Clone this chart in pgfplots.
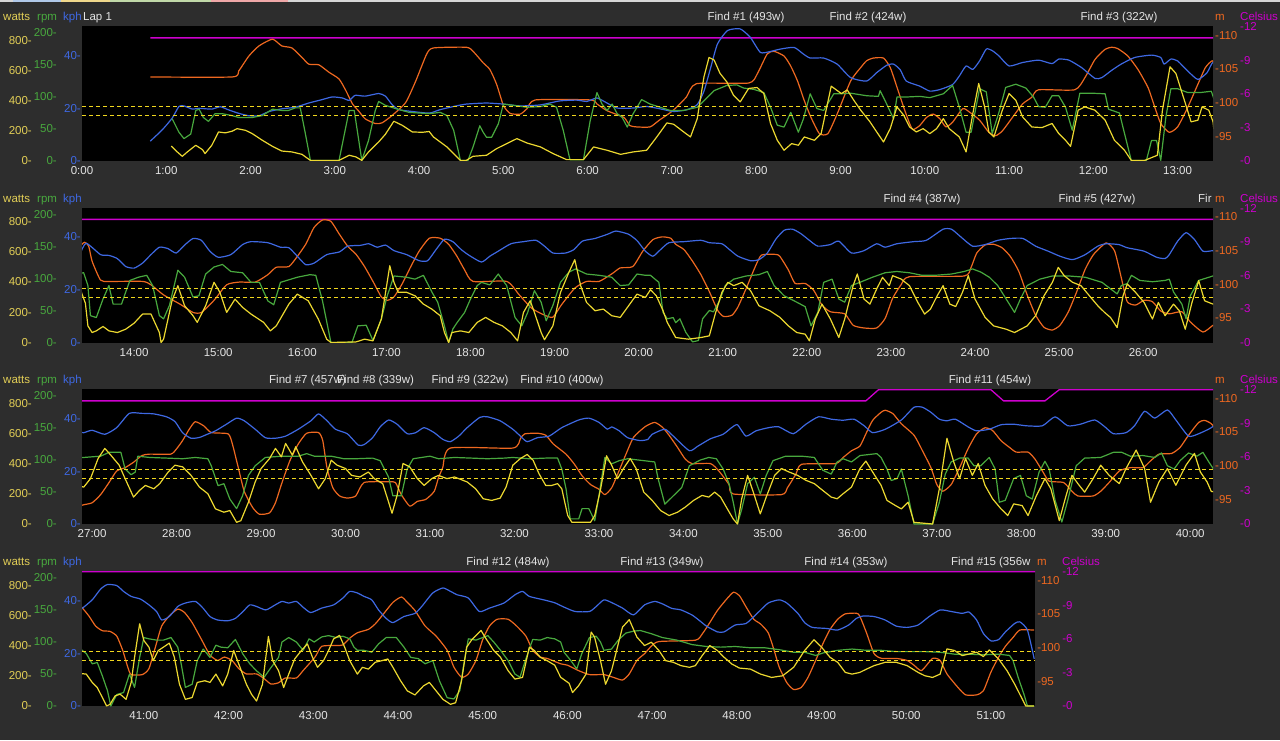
\documentclass[border=0pt]{standalone}
\usepackage{pgfplots}
\pgfplotsset{compat=1.18}
\usepackage{pgfplotstable}
\usepackage{fontspec}
\setmainfont{Liberation Sans}
\definecolor{bg}{RGB}{45,45,45}
\definecolor{watc}{RGB}{236,216,48}
\definecolor{watl}{RGB}{226,206,86}
\definecolor{rpmc}{RGB}{72,168,62}
\definecolor{kphc}{RGB}{62,104,226}
\definecolor{altc}{RGB}{238,104,32}
\definecolor{tmpc}{RGB}{205,0,205}
\definecolor{txt}{RGB}{228,228,228}
\definecolor{stripg}{RGB}{214,214,214}
\definecolor{dashc}{RGB}{240,214,30}

\pgfplotstableread[row sep=\\]{t v\\
1.06 99\\ 1.13 60\\ 1.19 31\\ 1.25 60\\ 1.35 104\\ 1.43 75\\ 1.46 49\\ 1.54 104\\ 1.62 192\\ 1.70 186\\ 1.78 197\\ 1.84 214\\ 1.94 203\\ 2.02 181\\ 2.14 137\\ 2.26 97\\ 2.37 66\\ 2.49 60\\ 2.61 44\\ 2.71 4\\ 3.05 4\\ 3.17 38\\ 3.25 27\\ 3.32 4\\ 3.40 60\\ 3.52 126\\ 3.60 177\\ 3.70 263\\ 3.80 236\\ 3.92 192\\ 4.04 190\\ 4.12 195\\ 4.17 159\\ 4.33 93\\ 4.49 4\\ 4.56 4\\ 4.64 31\\ 4.80 38\\ 4.92 82\\ 5.04 115\\ 5.16 148\\ 5.28 119\\ 5.44 93\\ 5.59 49\\ 5.75 9\\ 5.95 9\\ 6.07 93\\ 6.23 71\\ 6.39 44\\ 6.54 60\\ 6.70 71\\ 6.82 159\\ 6.94 252\\ 7.02 243\\ 7.14 192\\ 7.22 159\\ 7.30 280\\ 7.38 557\\ 7.44 685\\ 7.50 668\\ 7.57 580\\ 7.65 524\\ 7.73 435\\ 7.81 391\\ 7.91 480\\ 8.01 486\\ 8.09 446\\ 8.17 247\\ 8.25 137\\ 8.33 71\\ 8.42 115\\ 8.50 104\\ 8.57 159\\ 8.69 137\\ 8.77 181\\ 8.89 495\\ 9.01 446\\ 9.08 470\\ 9.16 400\\ 9.24 336\\ 9.35 259\\ 9.43 192\\ 9.51 126\\ 9.59 214\\ 9.67 358\\ 9.75 303\\ 9.82 225\\ 9.90 192\\ 9.98 214\\ 10.06 181\\ 10.14 214\\ 10.22 280\\ 10.29 214\\ 10.41 159\\ 10.49 60\\ 10.57 314\\ 10.64 513\\ 10.71 358\\ 10.76 192\\ 10.82 159\\ 10.92 336\\ 11.0 446\\ 11.08 402\\ 11.16 292\\ 11.27 225\\ 11.39 221\\ 11.51 248\\ 11.59 181\\ 11.67 137\\ 11.73 97\\ 11.82 336\\ 11.90 358\\ 12.02 336\\ 12.14 270\\ 12.25 137\\ 12.37 71\\ 12.45 4\\ 12.61 4\\ 12.76 38\\ 12.82 336\\ 12.91 623\\ 12.98 579\\ 13.08 402\\ 13.16 259\\ 13.24 270\\ 13.29 358\\ 13.37 336\\ 13.42 260\\
13.45 110\\ 13.50 66\\ 13.55 77\\ 13.63 106\\ 13.70 77\\ 13.80 66\\ 13.90 88\\ 14.0 128\\ 14.10 188\\ 14.20 188\\ 14.30 66\\ 14.32 0\\ 14.35 22\\ 14.45 276\\ 14.52 376\\ 14.60 243\\ 14.70 177\\ 14.75 133\\ 14.85 243\\ 14.95 398\\ 15.02 332\\ 15.10 199\\ 15.20 287\\ 15.29 232\\ 15.39 188\\ 15.54 133\\ 15.62 77\\ 15.69 110\\ 15.84 254\\ 15.94 320\\ 16.07 276\\ 16.19 155\\ 16.29 22\\ 16.34 0\\ 16.64 4\\ 16.74 22\\ 16.84 11\\ 16.94 155\\ 17.04 508\\ 17.09 398\\ 17.14 332\\ 17.24 332\\ 17.34 309\\ 17.44 254\\ 17.54 221\\ 17.64 177\\ 17.69 66\\ 17.74 0\\ 17.78 66\\ 17.88 77\\ 17.98 66\\ 18.08 133\\ 18.18 166\\ 18.28 133\\ 18.38 110\\ 18.48 66\\ 18.56 11\\ 18.63 199\\ 18.71 276\\ 18.76 199\\ 18.84 66\\ 18.88 18\\ 18.98 110\\ 19.07 331\\ 19.17 464\\ 19.24 548\\ 19.31 376\\ 19.38 265\\ 19.48 210\\ 19.58 221\\ 19.68 177\\ 19.78 166\\ 19.88 243\\ 19.98 320\\ 20.08 298\\ 20.14 349\\ 20.21 309\\ 20.29 210\\ 20.34 133\\ 20.44 33\\ 20.59 22\\ 20.74 33\\ 20.84 44\\ 20.91 188\\ 20.99 332\\ 21.06 398\\ 21.13 376\\ 21.23 398\\ 21.33 343\\ 21.43 243\\ 21.56 210\\ 21.68 166\\ 21.78 110\\ 21.88 66\\ 21.98 55\\ 22.03 11\\ 22.10 155\\ 22.18 254\\ 22.28 155\\ 22.38 33\\ 22.45 155\\ 22.55 376\\ 22.60 453\\ 22.68 287\\ 22.75 254\\ 22.83 354\\ 22.90 431\\ 22.98 376\\ 23.02 442\\ 23.12 420\\ 23.22 376\\ 23.32 265\\ 23.40 188\\ 23.47 221\\ 23.55 309\\ 23.62 376\\ 23.70 254\\ 23.77 238\\ 23.85 331\\ 23.92 442\\ 24.0 287\\ 24.12 166\\ 24.22 110\\ 24.37 88\\ 24.47 66\\ 24.62 110\\ 24.72 177\\ 24.82 309\\ 24.92 398\\ 24.99 497\\ 25.06 442\\ 25.16 398\\ 25.26 376\\ 25.36 309\\ 25.46 243\\ 25.54 199\\ 25.61 166\\ 25.69 99\\ 25.76 309\\ 25.81 387\\ 25.91 331\\ 26.01 265\\ 26.11 155\\ 26.18 265\\ 26.26 177\\ 26.36 254\\ 26.43 210\\ 26.50 88\\ 26.58 265\\ 26.66 409\\ 26.73 276\\ 26.83 254\\
26.90 244\\ 26.98 300\\ 27.07 433\\ 27.15 500\\ 27.22 456\\ 27.32 389\\ 27.39 300\\ 27.49 178\\ 27.56 222\\ 27.63 255\\ 27.73 233\\ 27.80 267\\ 27.90 344\\ 27.98 389\\ 28.07 378\\ 28.17 322\\ 28.27 244\\ 28.37 200\\ 28.46 100\\ 28.56 78\\ 28.63 89\\ 28.71 11\\ 28.76 22\\ 28.85 144\\ 28.93 278\\ 29.00 367\\ 29.10 433\\ 29.17 500\\ 29.24 444\\ 29.29 533\\ 29.37 456\\ 29.41 511\\ 29.49 411\\ 29.59 322\\ 29.68 233\\ 29.76 300\\ 29.83 422\\ 29.90 389\\ 30.0 367\\ 30.07 322\\ 30.17 311\\ 30.27 344\\ 30.34 300\\ 30.44 267\\ 30.51 144\\ 30.55 71\\ 30.61 189\\ 30.68 400\\ 30.76 378\\ 30.85 300\\ 30.93 255\\ 31.02 300\\ 31.10 322\\ 31.20 300\\ 31.29 311\\ 31.44 278\\ 31.54 233\\ 31.63 167\\ 31.73 156\\ 31.83 171\\ 31.90 244\\ 31.98 389\\ 32.07 433\\ 32.15 460\\ 32.22 422\\ 32.29 333\\ 32.37 255\\ 32.44 255\\ 32.51 267\\ 32.56 233\\ 32.63 56\\ 32.68 11\\ 32.90 11\\ 32.95 56\\ 33.02 233\\ 33.09 451\\ 33.15 389\\ 33.22 300\\ 33.29 367\\ 33.37 433\\ 33.44 367\\ 33.53 211\\ 33.63 156\\ 33.73 89\\ 33.83 56\\ 33.93 78\\ 34.02 111\\ 34.12 156\\ 34.22 189\\ 34.30 178\\ 34.37 211\\ 34.44 178\\ 34.52 100\\ 34.59 33\\ 34.64 0\\ 34.69 167\\ 34.76 322\\ 34.84 189\\ 34.91 67\\ 34.98 178\\ 35.08 322\\ 35.16 367\\ 35.25 344\\ 35.35 322\\ 35.45 289\\ 35.55 267\\ 35.65 222\\ 35.75 178\\ 35.82 167\\ 35.89 200\\ 35.99 244\\ 36.09 367\\ 36.16 416\\ 36.24 344\\ 36.34 256\\ 36.41 156\\ 36.51 122\\ 36.58 100\\ 36.66 144\\ 36.73 11\\ 36.95 0\\ 37.03 233\\ 37.12 567\\ 37.20 411\\ 37.27 300\\ 37.34 433\\ 37.42 322\\ 37.49 400\\ 37.57 256\\ 37.66 167\\ 37.76 100\\ 37.84 56\\ 37.91 133\\ 38.01 122\\ 38.08 56\\ 38.18 189\\ 38.28 300\\ 38.35 233\\ 38.45 22\\ 38.52 167\\ 38.60 322\\ 38.67 267\\ 38.75 211\\ 38.85 300\\ 38.94 389\\ 39.04 322\\ 39.16 267\\ 39.24 367\\ 39.36 489\\ 39.46 367\\ 39.53 144\\ 39.63 278\\ 39.73 367\\ 39.83 256\\ 39.95 389\\ 40.05 467\\ 40.12 344\\ 40.20 278\\ 40.25 215\\
40.32 211\\ 40.39 156\\ 40.45 122\\ 40.51 56\\ 40.56 0\\ 40.60 11\\ 40.66 67\\ 40.72 78\\ 40.79 44\\ 40.85 156\\ 40.89 322\\ 40.95 544\\ 41.0 433\\ 41.06 389\\ 41.11 300\\ 41.17 367\\ 41.23 389\\ 41.30 416\\ 41.36 322\\ 41.42 144\\ 41.49 44\\ 41.57 56\\ 41.63 156\\ 41.72 167\\ 41.78 156\\ 41.85 211\\ 41.93 133\\ 41.99 211\\ 42.06 367\\ 42.12 278\\ 42.21 144\\ 42.27 78\\ 42.33 33\\ 42.40 144\\ 42.47 460\\ 42.52 300\\ 42.59 233\\ 42.65 122\\ 42.71 211\\ 42.78 311\\ 42.86 367\\ 42.93 411\\ 42.99 322\\ 43.05 256\\ 43.12 300\\ 43.18 367\\ 43.24 444\\ 43.31 467\\ 43.37 389\\ 43.43 300\\ 43.52 211\\ 43.58 256\\ 43.65 244\\ 43.73 289\\ 43.81 300\\ 43.88 311\\ 43.94 256\\ 44.03 167\\ 44.11 100\\ 44.20 73\\ 44.30 133\\ 44.37 156\\ 44.45 100\\ 44.53 44\\ 44.62 11\\ 44.68 22\\ 44.75 167\\ 44.81 389\\ 44.87 438\\ 44.98 500\\ 45.04 444\\ 45.13 367\\ 45.21 322\\ 45.30 233\\ 45.38 178\\ 45.47 189\\ 45.55 389\\ 45.61 367\\ 45.68 322\\ 45.76 300\\ 45.85 270\\ 45.92 190\\ 46.02 150\\ 46.06 89\\ 46.13 133\\ 46.22 211\\ 46.28 489\\ 46.32 456\\ 46.39 300\\ 46.45 144\\ 46.52 233\\ 46.58 367\\ 46.65 522\\ 46.73 571\\ 46.82 456\\ 46.91 400\\ 46.99 422\\ 47.08 367\\ 47.16 300\\ 47.25 289\\ 47.34 267\\ 47.44 256\\ 47.51 267\\ 47.59 333\\ 47.68 400\\ 47.77 367\\ 47.85 322\\ 47.94 278\\ 48.03 251\\ 48.16 244\\ 48.28 211\\ 48.41 189\\ 48.54 200\\ 48.67 256\\ 48.80 367\\ 48.91 438\\ 49.0 389\\ 49.10 322\\ 49.19 289\\ 49.28 222\\ 49.36 211\\ 49.45 222\\ 49.53 244\\ 49.62 267\\ 49.75 289\\ 49.88 289\\ 50.01 267\\ 50.14 222\\ 50.22 200\\ 50.31 189\\ 50.40 211\\ 50.48 378\\ 50.57 367\\ 50.66 333\\ 50.74 344\\ 50.83 356\\ 50.91 327\\ 50.98 371\\ 51.09 311\\ 51.19 233\\ 51.28 144\\ 51.34 78\\ 51.41 0\\ 51.51 0\\
}\Wat

\pgfplotstableread[row sep=\\]{t v\\
1.07 66\\ 1.15 45\\ 1.21 35\\ 1.29 42\\ 1.35 79\\ 1.39 81\\ 1.44 68\\ 1.50 62\\ 1.58 74\\ 1.66 74\\ 1.78 71\\ 1.86 68\\ 2.02 68\\ 2.14 71\\ 2.26 81\\ 2.37 79\\ 2.45 79\\ 2.53 83\\ 2.59 83\\ 2.65 43\\ 2.71 1\\ 3.05 1\\ 3.17 79\\ 3.23 79\\ 3.32 1\\ 3.40 32\\ 3.48 79\\ 3.52 93\\ 3.60 87\\ 3.72 82\\ 3.88 76\\ 4.12 74\\ 4.25 76\\ 4.33 71\\ 4.41 48\\ 4.49 1\\ 4.58 1\\ 4.64 22\\ 4.72 55\\ 4.76 45\\ 4.80 37\\ 4.86 37\\ 4.94 58\\ 5.0 89\\ 5.12 87\\ 5.28 84\\ 5.44 85\\ 5.55 89\\ 5.63 84\\ 5.71 48\\ 5.79 2\\ 5.95 2\\ 6.03 63\\ 6.11 107\\ 6.17 89\\ 6.23 79\\ 6.29 89\\ 6.35 74\\ 6.41 68\\ 6.47 53\\ 6.54 74\\ 6.64 96\\ 6.74 89\\ 6.86 84\\ 6.98 79\\ 7.14 79\\ 7.30 84\\ 7.38 94\\ 7.50 110\\ 7.65 118\\ 7.77 119\\ 7.85 114\\ 7.97 112\\ 8.09 107\\ 8.17 84\\ 8.25 56\\ 8.33 53\\ 8.41 76\\ 8.50 45\\ 8.56 66\\ 8.64 105\\ 8.72 82\\ 8.80 79\\ 8.92 105\\ 9.0 105\\ 9.12 106\\ 9.31 102\\ 9.45 101\\ 9.47 110\\ 9.53 94\\ 9.63 66\\ 9.67 100\\ 9.78 100\\ 9.94 101\\ 10.06 99\\ 10.22 105\\ 10.33 118\\ 10.41 84\\ 10.49 45\\ 10.55 45\\ 10.65 113\\ 10.73 108\\ 10.80 43\\ 10.88 76\\ 10.96 115\\ 11.08 120\\ 11.20 114\\ 11.29 100\\ 11.35 85\\ 11.43 84\\ 11.51 102\\ 11.59 102\\ 11.67 84\\ 11.75 48\\ 11.84 106\\ 11.98 106\\ 12.14 105\\ 12.18 81\\ 12.31 75\\ 12.37 43\\ 12.45 1\\ 12.63 1\\ 12.69 32\\ 12.75 32\\ 12.80 1\\ 12.86 68\\ 12.92 113\\ 13.0 113\\ 13.12 107\\ 13.27 107\\ 13.40 109\\
13.45 89\\ 13.48 42\\ 13.55 39\\ 13.63 68\\ 13.70 89\\ 13.75 60\\ 13.85 60\\ 13.90 79\\ 13.95 97\\ 14.05 102\\ 14.15 105\\ 14.22 89\\ 14.30 42\\ 14.35 37\\ 14.42 58\\ 14.52 113\\ 14.60 102\\ 14.70 71\\ 14.77 73\\ 14.85 107\\ 14.95 118\\ 15.05 122\\ 15.15 111\\ 15.29 109\\ 15.39 94\\ 15.49 94\\ 15.59 65\\ 15.66 59\\ 15.74 94\\ 15.94 102\\ 16.09 106\\ 16.16 105\\ 16.24 65\\ 16.34 0\\ 16.59 0\\ 16.66 26\\ 16.76 27\\ 16.84 3\\ 16.94 37\\ 17.01 73\\ 17.09 104\\ 17.24 102\\ 17.34 99\\ 17.44 105\\ 17.54 79\\ 17.61 63\\ 17.69 26\\ 17.74 0\\ 17.79 21\\ 17.84 31\\ 17.93 47\\ 18.0 68\\ 18.08 89\\ 18.13 94\\ 18.23 90\\ 18.33 107\\ 18.43 89\\ 18.53 39\\ 18.61 26\\ 18.68 47\\ 18.76 81\\ 18.84 63\\ 18.90 34\\ 18.98 58\\ 19.07 94\\ 19.17 110\\ 19.25 115\\ 19.38 107\\ 19.53 105\\ 19.68 102\\ 19.78 89\\ 19.88 90\\ 19.98 107\\ 20.08 105\\ 20.14 105\\ 20.24 94\\ 20.29 47\\ 20.34 37\\ 20.41 39\\ 20.44 31\\ 20.49 37\\ 20.56 16\\ 20.64 1\\ 20.71 3\\ 20.76 37\\ 20.84 50\\ 20.89 48\\ 20.96 65\\ 21.03 89\\ 21.13 99\\ 21.28 104\\ 21.43 106\\ 21.53 111\\ 21.61 89\\ 21.73 73\\ 21.88 63\\ 21.98 56\\ 22.05 26\\ 22.13 47\\ 22.20 94\\ 22.30 99\\ 22.38 68\\ 22.45 63\\ 22.53 89\\ 22.63 94\\ 22.78 102\\ 22.93 109\\ 23.07 111\\ 23.22 109\\ 23.37 105\\ 23.52 105\\ 23.72 107\\ 23.87 111\\ 23.97 115\\ 24.07 110\\ 24.17 102\\ 24.27 89\\ 24.37 68\\ 24.47 47\\ 24.54 68\\ 24.62 89\\ 24.77 99\\ 24.92 104\\ 25.11 104\\ 25.31 102\\ 25.51 94\\ 25.61 84\\ 25.69 76\\ 25.74 89\\ 25.81 92\\ 25.86 105\\ 25.96 97\\ 26.11 95\\ 26.26 97\\ 26.31 99\\ 26.36 79\\ 26.46 60\\ 26.51 37\\ 26.56 73\\ 26.66 97\\ 26.83 104\\
26.90 104\\ 27.10 106\\ 27.20 112\\ 27.34 112\\ 27.39 86\\ 27.46 77\\ 27.51 81\\ 27.54 106\\ 27.68 104\\ 27.88 103\\ 28.07 102\\ 28.22 104\\ 28.37 102\\ 28.41 91\\ 28.49 60\\ 28.56 63\\ 28.63 39\\ 28.71 24\\ 28.78 44\\ 28.85 76\\ 28.93 91\\ 29.05 104\\ 29.24 106\\ 29.44 106\\ 29.54 110\\ 29.63 106\\ 29.83 106\\ 29.98 102\\ 30.12 102\\ 30.32 103\\ 30.41 99\\ 30.51 73\\ 30.56 44\\ 30.66 44\\ 30.73 86\\ 30.80 102\\ 31.0 106\\ 31.10 102\\ 31.29 104\\ 31.49 103\\ 31.68 102\\ 31.88 103\\ 31.98 104\\ 32.17 102\\ 32.37 103\\ 32.51 103\\ 32.56 86\\ 32.61 55\\ 32.66 8\\ 32.76 8\\ 32.80 24\\ 32.88 24\\ 32.95 5\\ 33.0 44\\ 33.07 104\\ 33.15 94\\ 33.24 99\\ 33.34 102\\ 33.53 99\\ 33.66 97\\ 33.70 71\\ 33.78 31\\ 33.88 44\\ 33.98 57\\ 34.07 91\\ 34.20 100\\ 34.30 104\\ 34.39 102\\ 34.47 86\\ 34.54 63\\ 34.59 34\\ 34.64 0\\ 34.69 23\\ 34.76 63\\ 34.84 73\\ 34.91 47\\ 34.98 76\\ 35.06 99\\ 35.21 106\\ 35.40 106\\ 35.55 104\\ 35.65 84\\ 35.75 78\\ 35.82 97\\ 35.89 102\\ 35.99 97\\ 36.09 107\\ 36.29 110\\ 36.34 104\\ 36.41 86\\ 36.46 68\\ 36.53 71\\ 36.58 86\\ 36.66 44\\ 36.73 0\\ 36.95 0\\ 37.03 34\\ 37.10 78\\ 37.17 97\\ 37.27 103\\ 37.37 103\\ 37.44 91\\ 37.52 91\\ 37.62 104\\ 37.69 86\\ 37.74 34\\ 37.81 37\\ 37.91 71\\ 37.99 76\\ 38.06 44\\ 38.13 39\\ 38.21 81\\ 38.28 98\\ 38.33 86\\ 38.40 37\\ 38.48 3\\ 38.55 37\\ 38.65 91\\ 38.75 103\\ 38.94 104\\ 39.09 112\\ 39.19 112\\ 39.29 106\\ 39.44 107\\ 39.58 104\\ 39.66 111\\ 39.73 91\\ 39.81 86\\ 39.88 99\\ 39.98 111\\ 40.08 106\\ 40.15 112\\ 40.22 97\\
40.27 87\\ 40.32 82\\ 40.39 66\\ 40.45 68\\ 40.51 47\\ 40.57 24\\ 40.61 0\\ 40.68 18\\ 40.76 21\\ 40.83 50\\ 40.89 29\\ 40.95 76\\ 41.0 107\\ 41.06 105\\ 41.15 103\\ 41.23 103\\ 41.32 107\\ 41.40 92\\ 41.44 66\\ 41.49 29\\ 41.57 34\\ 41.63 71\\ 41.70 89\\ 41.78 76\\ 41.85 95\\ 41.91 92\\ 41.99 91\\ 42.08 104\\ 42.17 81\\ 42.25 66\\ 42.33 55\\ 42.42 45\\ 42.50 60\\ 42.59 76\\ 42.63 100\\ 42.71 107\\ 42.80 100\\ 42.88 87\\ 42.95 105\\ 43.01 100\\ 43.10 108\\ 43.18 110\\ 43.27 107\\ 43.35 109\\ 43.43 105\\ 43.48 92\\ 43.52 87\\ 43.60 87\\ 43.69 84\\ 43.77 97\\ 43.86 107\\ 43.98 107\\ 44.07 92\\ 44.15 76\\ 44.24 74\\ 44.32 66\\ 44.41 71\\ 44.49 39\\ 44.58 13\\ 44.66 11\\ 44.73 24\\ 44.77 60\\ 44.83 105\\ 44.92 103\\ 45.0 107\\ 45.06 110\\ 45.13 100\\ 45.21 87\\ 45.30 71\\ 45.38 50\\ 45.44 45\\ 45.51 74\\ 45.59 104\\ 45.68 103\\ 45.76 107\\ 45.85 105\\ 45.92 100\\ 45.96 84\\ 46.04 71\\ 46.11 58\\ 46.17 82\\ 46.26 107\\ 46.34 109\\ 46.39 100\\ 46.43 87\\ 46.52 89\\ 46.60 103\\ 46.69 114\\ 46.78 117\\ 46.86 118\\ 46.99 113\\ 47.12 107\\ 47.29 103\\ 47.47 96\\ 47.64 93\\ 47.81 92\\ 47.98 93\\ 48.16 91\\ 48.33 91\\ 48.50 88\\ 48.67 84\\ 48.80 84\\ 48.93 79\\ 49.02 83\\ 49.19 87\\ 49.36 89\\ 49.53 87\\ 49.71 87\\ 49.88 85\\ 50.05 85\\ 50.22 85\\ 50.40 84\\ 50.57 81\\ 50.74 81\\ 50.91 80\\ 51.09 81\\ 51.22 79\\ 51.26 71\\ 51.32 45\\ 51.39 18\\ 51.43 0\\ 51.51 0\\
}\Rpm

\pgfplotstableread[row sep=\\]{t v\\
0.81 7.5\\ 0.95 11.7\\ 1.07 16.2\\ 1.15 20.6\\ 1.21 20.8\\ 1.31 19.6\\ 1.39 19.9\\ 1.54 19.6\\ 1.64 20.5\\ 1.74 19.3\\ 1.86 18.0\\ 1.98 17.1\\ 2.10 17.1\\ 2.22 18.7\\ 2.37 19.7\\ 2.53 20.3\\ 2.69 21.9\\ 2.85 23.2\\ 2.97 24.2\\ 3.09 23.8\\ 3.17 22.9\\ 3.24 24.8\\ 3.36 24.5\\ 3.52 25.5\\ 3.60 24.5\\ 3.68 21.3\\ 3.76 19.4\\ 3.92 18.7\\ 4.12 18.1\\ 4.25 19.4\\ 4.41 20.6\\ 4.56 21.5\\ 4.80 21.9\\ 5.0 21.5\\ 5.20 20.8\\ 5.44 21.2\\ 5.67 22.7\\ 5.87 23.0\\ 5.99 22.5\\ 6.11 23.8\\ 6.23 21.9\\ 6.35 20.0\\ 6.54 20.0\\ 6.70 20.6\\ 6.86 19.7\\ 7.02 18.7\\ 7.18 19.4\\ 7.30 21.3\\ 7.38 26.4\\ 7.46 35.3\\ 7.54 44.2\\ 7.66 49.3\\ 7.81 49.9\\ 7.93 46.7\\ 8.05 41.0\\ 8.17 41.4\\ 8.29 42.3\\ 8.45 42.9\\ 8.56 40.4\\ 8.64 38.9\\ 8.80 38.9\\ 8.96 36.6\\ 9.12 31.5\\ 9.31 30.2\\ 9.43 33.4\\ 9.55 36.2\\ 9.63 36.6\\ 9.71 34.4\\ 9.78 30.2\\ 9.94 28.3\\ 10.06 26.4\\ 10.18 27.0\\ 10.33 28.9\\ 10.41 32.1\\ 10.49 35.9\\ 10.57 34.6\\ 10.65 37.8\\ 10.73 42.3\\ 10.80 41.7\\ 10.88 39.7\\ 11.0 35.9\\ 11.16 37.2\\ 11.35 38.1\\ 11.51 36.8\\ 11.59 38.5\\ 11.71 38.1\\ 11.86 35.3\\ 12.02 31.2\\ 12.10 31.5\\ 12.22 34.3\\ 12.33 36.6\\ 12.49 39.1\\ 12.69 40.0\\ 12.80 39.1\\ 12.84 36.6\\ 12.92 38.5\\ 13.0 37.8\\ 13.12 34.0\\ 13.24 30.8\\ 13.35 33.4\\ 13.43 37.5\\
13.60 33.2\\ 13.70 32.9\\ 13.80 31.7\\ 13.90 28.7\\ 14.0 28.1\\ 14.10 30.0\\ 14.20 33.2\\ 14.30 36.0\\ 14.40 35.5\\ 14.50 33.8\\ 14.60 36.8\\ 14.70 39.3\\ 14.80 38.6\\ 14.90 34.5\\ 15.0 32.2\\ 15.15 33.2\\ 15.29 37.0\\ 15.39 38.1\\ 15.59 37.7\\ 15.74 36.0\\ 15.84 35.8\\ 15.94 32.6\\ 16.04 29.4\\ 16.14 30.0\\ 16.29 33.2\\ 16.44 34.2\\ 16.54 36.4\\ 16.69 36.7\\ 16.79 37.3\\ 16.89 36.0\\ 16.99 36.8\\ 17.09 34.7\\ 17.24 33.2\\ 17.39 30.9\\ 17.49 30.9\\ 17.59 35.1\\ 17.69 39.0\\ 17.79 38.1\\ 17.89 35.1\\ 17.98 33.0\\ 18.13 30.4\\ 18.23 32.6\\ 18.33 34.5\\ 18.48 37.3\\ 18.63 38.1\\ 18.78 38.6\\ 18.88 36.4\\ 18.98 33.8\\ 19.13 33.8\\ 19.23 35.1\\ 19.33 38.3\\ 19.48 39.3\\ 19.63 40.9\\ 19.73 42.1\\ 19.88 40.9\\ 19.98 38.5\\ 20.08 34.5\\ 20.17 32.6\\ 20.26 35.1\\ 20.36 37.7\\ 20.54 38.1\\ 20.74 38.6\\ 20.84 37.7\\ 20.99 37.3\\ 21.08 35.1\\ 21.18 32.6\\ 21.33 30.9\\ 21.43 31.3\\ 21.53 33.8\\ 21.63 39.0\\ 21.73 42.4\\ 21.83 42.8\\ 21.93 41.1\\ 22.03 38.6\\ 22.13 36.4\\ 22.28 37.0\\ 22.38 38.3\\ 22.53 33.8\\ 22.68 34.7\\ 22.83 37.3\\ 22.93 36.0\\ 23.07 37.3\\ 23.27 38.1\\ 23.42 38.6\\ 23.62 42.8\\ 23.72 42.8\\ 23.82 40.2\\ 23.97 36.4\\ 24.12 37.0\\ 24.27 38.6\\ 24.42 39.3\\ 24.57 39.3\\ 24.72 36.4\\ 24.87 34.5\\ 25.01 32.6\\ 25.16 31.3\\ 25.31 33.2\\ 25.46 36.4\\ 25.56 37.3\\ 25.71 37.0\\ 25.81 35.8\\ 26.01 34.5\\ 26.16 32.2\\ 26.26 31.7\\ 26.31 33.2\\ 26.41 38.3\\ 26.51 41.5\\ 26.61 38.9\\ 26.71 34.5\\ 26.83 34.7\\
26.90 34.5\\ 27.0 35.4\\ 27.15 33.9\\ 27.29 36.4\\ 27.44 41.8\\ 27.59 41.8\\ 27.73 41.6\\ 27.88 40.5\\ 27.98 38.7\\ 28.07 34.5\\ 28.17 32.4\\ 28.27 32.7\\ 28.37 34.0\\ 28.46 35.2\\ 28.59 37.7\\ 28.71 40.0\\ 28.80 39.0\\ 28.93 35.8\\ 29.05 32.6\\ 29.17 32.4\\ 29.29 33.2\\ 29.44 35.8\\ 29.59 39.0\\ 29.68 41.6\\ 29.78 39.0\\ 29.88 35.8\\ 30.02 34.1\\ 30.15 29.8\\ 30.22 30.0\\ 30.32 32.6\\ 30.41 36.7\\ 30.51 39.3\\ 30.61 37.7\\ 30.73 34.1\\ 30.83 34.5\\ 30.93 36.4\\ 31.05 34.5\\ 31.15 32.0\\ 31.24 31.1\\ 31.34 33.2\\ 31.44 36.4\\ 31.59 40.3\\ 31.68 40.5\\ 31.83 39.0\\ 31.98 35.8\\ 32.07 33.2\\ 32.15 31.1\\ 32.27 32.6\\ 32.41 33.2\\ 32.56 36.4\\ 32.76 39.3\\ 32.88 40.0\\ 33.0 38.4\\ 33.10 35.8\\ 33.15 36.7\\ 33.24 35.2\\ 33.34 32.6\\ 33.49 31.5\\ 33.58 32.0\\ 33.63 33.9\\ 33.78 35.8\\ 33.88 33.2\\ 34.07 27.7\\ 34.17 29.4\\ 34.32 32.2\\ 34.47 33.9\\ 34.57 36.4\\ 34.64 37.5\\ 34.74 33.2\\ 34.86 35.2\\ 35.01 36.4\\ 35.13 36.7\\ 35.30 34.1\\ 35.45 37.7\\ 35.60 40.5\\ 35.75 39.6\\ 35.89 39.2\\ 36.02 39.6\\ 36.14 37.1\\ 36.24 34.5\\ 36.39 35.8\\ 36.58 39.3\\ 36.73 44.1\\ 36.83 44.1\\ 36.93 42.2\\ 37.03 39.6\\ 37.12 39.0\\ 37.22 39.6\\ 37.37 36.7\\ 37.47 35.2\\ 37.62 35.8\\ 37.76 37.5\\ 37.91 37.7\\ 38.06 37.1\\ 38.25 37.1\\ 38.40 40.5\\ 38.55 37.1\\ 38.70 37.7\\ 38.87 39.3\\ 38.99 36.7\\ 39.09 34.1\\ 39.24 34.5\\ 39.34 37.1\\ 39.46 42.6\\ 39.58 40.0\\ 39.73 43.1\\ 39.83 39.3\\ 39.98 33.2\\ 40.10 34.1\\ 40.25 36.4\\
40.39 40.1\\ 40.49 44.2\\ 40.57 45.9\\ 40.68 45.5\\ 40.76 43.3\\ 40.85 41.4\\ 40.96 40.4\\ 41.06 38.2\\ 41.15 35.7\\ 41.21 32.5\\ 41.30 33.8\\ 41.40 37.6\\ 41.49 38.9\\ 41.61 39.5\\ 41.70 36.9\\ 41.78 33.8\\ 41.87 32.5\\ 41.99 32.2\\ 42.08 33.1\\ 42.17 35.7\\ 42.25 38.2\\ 42.33 37.6\\ 42.44 36.3\\ 42.55 38.2\\ 42.63 39.5\\ 42.71 38.9\\ 42.80 39.5\\ 42.88 37.3\\ 42.97 35.3\\ 43.10 37.0\\ 43.24 38.2\\ 43.35 40.8\\ 43.43 43.3\\ 43.52 42.7\\ 43.60 41.4\\ 43.69 40.1\\ 43.77 36.3\\ 43.86 33.1\\ 43.94 31.5\\ 44.07 33.8\\ 44.20 35.0\\ 44.28 37.6\\ 44.41 42.7\\ 44.53 44.6\\ 44.62 43.3\\ 44.70 42.0\\ 44.83 40.8\\ 44.96 35.7\\ 45.08 37.0\\ 45.25 38.9\\ 45.38 42.0\\ 45.47 43.3\\ 45.55 41.4\\ 45.72 40.1\\ 45.85 39.0\\ 45.95 37.5\\ 46.09 35.7\\ 46.26 35.7\\ 46.34 37.6\\ 46.43 40.1\\ 46.52 39.1\\ 46.65 37.0\\ 46.78 34.4\\ 46.91 38.2\\ 47.03 39.5\\ 47.12 38.6\\ 47.23 36.9\\ 47.34 36.3\\ 47.47 34.4\\ 47.55 32.5\\ 47.64 30.2\\ 47.77 28.0\\ 47.85 28.0\\ 47.98 30.6\\ 48.11 31.2\\ 48.24 35.0\\ 48.37 38.9\\ 48.50 40.1\\ 48.59 38.9\\ 48.72 35.0\\ 48.80 31.5\\ 48.89 29.7\\ 49.06 29.3\\ 49.19 28.7\\ 49.32 30.6\\ 49.41 33.1\\ 49.49 34.0\\ 49.62 33.8\\ 49.75 32.5\\ 49.88 30.2\\ 50.01 29.7\\ 50.14 30.6\\ 50.27 33.8\\ 50.40 36.3\\ 50.53 35.7\\ 50.66 35.0\\ 50.74 35.5\\ 50.83 32.5\\ 50.91 27.4\\ 51.0 24.6\\ 51.09 25.1\\ 51.17 28.0\\ 51.28 31.2\\ 51.34 31.8\\ 51.43 28.7\\ 51.51 17.8\\
}\Kph

\pgfplotstableread[row sep=\\]{t v\\
0.81 103.8\\ 1.78 103.8\\ 1.86 104.7\\ 1.98 106.9\\ 2.10 108.4\\ 2.26 109.4\\ 2.37 108.4\\ 2.49 108.1\\ 2.61 106.7\\ 2.69 105.7\\ 2.81 105.6\\ 2.93 104.5\\ 3.05 103.5\\ 3.13 101.8\\ 3.21 99.8\\ 3.28 98.8\\ 3.36 97.6\\ 3.48 96.9\\ 3.56 97.0\\ 3.68 98.1\\ 3.84 100.0\\ 3.96 103.2\\ 4.09 107.2\\ 4.17 108.1\\ 4.56 108.2\\ 4.64 107.6\\ 4.76 105.9\\ 4.84 104.9\\ 4.92 102.7\\ 5.0 99.6\\ 5.08 98.4\\ 5.20 98.3\\ 5.28 99.1\\ 5.38 100.4\\ 6.03 100.4\\ 6.11 99.8\\ 6.23 98.8\\ 6.43 97.8\\ 6.50 96.6\\ 6.58 96.4\\ 6.74 96.4\\ 6.85 97.4\\ 7.01 98.8\\ 7.17 100.8\\ 7.29 102.8\\ 7.91 102.9\\ 8.01 104.2\\ 8.13 107.2\\ 8.21 107.6\\ 8.33 106.9\\ 8.41 105.4\\ 8.49 103.2\\ 8.57 100.3\\ 8.65 97.8\\ 8.75 95.4\\ 8.85 95.4\\ 8.96 98.3\\ 9.12 103.2\\ 9.24 105.2\\ 9.31 106.2\\ 9.39 106.6\\ 9.51 106.6\\ 9.59 105.2\\ 9.67 102.3\\ 9.75 99.3\\ 9.82 96.9\\ 9.86 96.0\\ 9.94 96.6\\ 10.02 97.8\\ 10.10 98.3\\ 10.18 97.6\\ 10.25 96.4\\ 10.33 97.1\\ 10.45 99.1\\ 10.53 98.6\\ 10.65 97.4\\ 10.76 95.6\\ 10.84 95.1\\ 10.92 95.8\\ 11.04 97.8\\ 11.16 99.8\\ 11.27 100.8\\ 11.35 101.9\\ 11.78 101.9\\ 11.90 103.7\\ 12.02 106.4\\ 12.14 107.9\\ 12.22 108.2\\ 12.29 108.0\\ 12.41 106.9\\ 12.53 104.9\\ 12.65 102.2\\ 12.73 99.3\\ 12.80 96.9\\ 12.90 95.6\\ 13.0 96.4\\ 13.12 99.3\\ 13.24 102.7\\ 13.33 105.2\\ 13.41 106.2\\
13.46 105.6\\ 13.50 103.4\\ 13.60 100.6\\ 13.70 100.4\\ 14.10 100.4\\ 14.20 99.9\\ 14.35 98.4\\ 14.55 97.0\\ 14.70 95.8\\ 14.80 95.8\\ 14.95 97.6\\ 15.10 99.9\\ 15.25 100.3\\ 15.44 100.3\\ 15.59 101.4\\ 15.69 102.5\\ 15.84 102.6\\ 15.94 104.1\\ 16.04 105.9\\ 16.14 108.4\\ 16.24 109.5\\ 16.34 109.3\\ 16.44 107.4\\ 16.54 105.6\\ 16.64 104.4\\ 16.74 102.6\\ 16.84 100.4\\ 16.94 98.1\\ 17.01 97.6\\ 17.09 98.1\\ 17.19 100.1\\ 17.29 102.6\\ 17.39 104.9\\ 17.51 106.8\\ 17.64 106.8\\ 17.74 105.9\\ 17.84 104.1\\ 17.93 102.1\\ 18.03 100.4\\ 18.43 100.4\\ 18.58 98.4\\ 18.73 96.4\\ 18.88 95.4\\ 18.98 95.1\\ 19.08 96.9\\ 19.24 99.4\\ 19.38 100.4\\ 19.53 100.4\\ 19.69 101.6\\ 19.78 102.4\\ 19.93 102.6\\ 20.05 104.9\\ 20.17 106.6\\ 20.28 107.0\\ 20.38 106.8\\ 20.44 105.9\\ 20.54 105.1\\ 20.64 103.4\\ 20.74 101.4\\ 20.84 98.9\\ 20.94 96.1\\ 21.01 95.2\\ 21.11 95.4\\ 21.18 96.6\\ 21.28 99.4\\ 21.38 102.4\\ 21.46 104.3\\ 21.63 104.4\\ 21.68 104.1\\ 21.78 102.1\\ 21.86 100.1\\ 21.98 100.1\\ 22.08 99.1\\ 22.18 96.9\\ 22.28 95.9\\ 22.45 95.6\\ 22.55 93.9\\ 22.68 93.5\\ 22.83 93.5\\ 22.93 94.9\\ 23.02 97.9\\ 23.12 99.9\\ 23.22 101.1\\ 23.87 101.2\\ 23.95 102.4\\ 24.02 104.6\\ 24.12 105.8\\ 24.22 105.9\\ 24.32 105.4\\ 24.42 104.1\\ 24.52 101.9\\ 24.62 98.4\\ 24.72 95.4\\ 24.82 93.6\\ 24.92 93.2\\ 25.01 93.9\\ 25.11 95.9\\ 25.21 98.9\\ 25.31 102.2\\ 25.41 104.4\\ 25.56 106.1\\ 25.66 104.9\\ 25.74 100.9\\ 25.81 97.4\\ 25.91 96.9\\ 26.01 97.6\\ 26.11 97.4\\ 26.21 96.0\\ 26.31 95.6\\ 26.46 95.9\\ 26.56 94.4\\ 26.71 92.9\\ 26.83 93.9\\
26.90 94.2\\ 27.0 94.5\\ 27.10 95.7\\ 27.20 97.5\\ 27.29 99.2\\ 27.39 99.7\\ 27.49 100.5\\ 27.59 101.5\\ 27.68 101.7\\ 27.93 101.7\\ 28.0 102.5\\ 28.07 103.7\\ 28.15 105.4\\ 28.22 106.5\\ 28.32 105.9\\ 28.41 104.9\\ 28.61 104.7\\ 28.66 103.2\\ 28.73 99.7\\ 28.80 96.2\\ 28.90 93.8\\ 28.98 92.8\\ 29.10 93.0\\ 29.17 94.5\\ 29.24 97.2\\ 29.34 100.7\\ 29.44 103.2\\ 29.54 104.8\\ 29.68 104.9\\ 29.73 103.7\\ 29.78 99.7\\ 29.85 96.7\\ 29.93 95.5\\ 30.02 95.2\\ 30.12 95.5\\ 30.22 97.5\\ 30.51 97.6\\ 30.59 97.5\\ 30.66 95.7\\ 30.76 94.0\\ 30.85 94.7\\ 30.95 95.0\\ 31.05 96.2\\ 31.10 98.2\\ 31.15 99.7\\ 31.24 102.6\\ 31.98 102.6\\ 32.07 104.0\\ 32.12 104.7\\ 32.27 104.8\\ 32.37 104.5\\ 32.46 103.2\\ 32.61 101.7\\ 32.71 100.2\\ 32.80 98.5\\ 32.90 97.2\\ 33.0 96.5\\ 33.07 95.7\\ 33.15 96.7\\ 33.22 98.7\\ 33.32 101.7\\ 33.41 104.2\\ 33.55 105.8\\ 33.66 106.4\\ 33.75 105.7\\ 33.83 104.5\\ 33.93 102.7\\ 34.02 101.0\\ 34.10 100.3\\ 34.32 100.3\\ 34.42 99.2\\ 34.54 97.2\\ 34.59 95.8\\ 35.16 95.7\\ 35.23 96.7\\ 35.33 98.7\\ 35.40 100.2\\ 35.80 100.3\\ 35.89 101.2\\ 35.99 102.2\\ 36.09 102.9\\ 36.16 104.7\\ 36.24 106.7\\ 36.34 107.9\\ 36.39 108.2\\ 36.48 107.7\\ 36.58 106.2\\ 36.73 104.5\\ 36.83 102.2\\ 36.93 99.7\\ 37.0 97.2\\ 37.07 96.2\\ 37.17 97.2\\ 37.27 99.7\\ 37.37 102.5\\ 37.47 104.7\\ 37.57 105.6\\ 37.66 105.2\\ 37.76 103.7\\ 37.86 102.7\\ 37.94 102.0\\ 38.08 102.0\\ 38.16 101.0\\ 38.25 99.2\\ 38.33 97.7\\ 38.50 97.5\\ 38.60 96.2\\ 38.67 95.5\\ 38.85 95.5\\ 38.94 96.2\\ 39.04 97.5\\ 39.16 99.2\\ 39.29 99.7\\ 39.44 99.7\\ 39.53 100.7\\ 39.63 101.7\\ 39.78 101.8\\ 39.88 102.7\\ 39.98 104.5\\ 40.10 106.4\\ 40.17 106.7\\ 40.25 106.2\\
40.35 104.7\\ 40.43 103.2\\ 40.51 102.5\\ 40.60 102.4\\ 40.68 101.7\\ 40.75 99.6\\ 40.81 97.1\\ 40.85 96.0\\ 40.98 96.0\\ 41.06 96.9\\ 41.15 100.7\\ 41.21 103.2\\ 41.30 104.7\\ 41.40 105.7\\ 41.48 105.2\\ 41.57 103.7\\ 41.68 101.2\\ 41.78 98.9\\ 41.87 98.1\\ 41.95 98.6\\ 42.04 98.1\\ 42.12 96.9\\ 42.21 96.1\\ 42.33 96.1\\ 42.42 95.4\\ 42.50 94.6\\ 42.59 94.8\\ 42.67 95.5\\ 42.80 95.5\\ 42.88 96.6\\ 43.02 98.6\\ 43.10 100.2\\ 43.27 100.3\\ 43.35 100.4\\ 43.43 101.4\\ 43.52 102.2\\ 43.65 102.7\\ 43.73 103.5\\ 43.81 104.7\\ 43.94 106.7\\ 44.04 107.5\\ 44.11 106.7\\ 44.20 105.5\\ 44.32 103.2\\ 44.45 101.7\\ 44.58 99.6\\ 44.66 97.1\\ 44.75 95.6\\ 44.83 96.1\\ 44.92 98.1\\ 45.0 101.2\\ 45.08 103.2\\ 45.17 104.2\\ 45.30 104.2\\ 45.40 103.2\\ 45.51 101.7\\ 45.59 99.6\\ 45.68 98.6\\ 45.76 98.4\\ 45.92 97.6\\ 46.0 97.4\\ 46.13 96.6\\ 46.26 96.0\\ 46.43 96.0\\ 46.54 95.6\\ 46.65 95.2\\ 46.73 96.1\\ 46.82 98.1\\ 46.91 99.1\\ 46.99 100.2\\ 47.08 100.9\\ 47.51 101.1\\ 47.59 102.0\\ 47.68 103.7\\ 47.77 105.5\\ 47.88 107.2\\ 47.96 108.2\\ 48.03 107.7\\ 48.11 106.0\\ 48.20 104.2\\ 48.28 103.5\\ 48.37 102.2\\ 48.44 99.6\\ 48.50 97.1\\ 48.59 94.8\\ 48.67 93.8\\ 48.76 94.1\\ 48.84 95.6\\ 48.93 98.1\\ 49.02 100.7\\ 49.10 102.7\\ 49.19 104.2\\ 49.28 105.0\\ 49.41 105.1\\ 49.45 104.7\\ 49.53 102.2\\ 49.62 99.1\\ 49.71 98.4\\ 49.88 98.4\\ 50.01 98.1\\ 50.09 97.4\\ 50.18 96.6\\ 50.31 98.4\\ 50.40 98.1\\ 50.48 96.1\\ 50.61 94.1\\ 50.70 93.0\\ 50.83 93.0\\ 50.91 93.6\\ 51.0 96.4\\ 51.09 98.6\\ 51.17 100.2\\ 51.26 101.5\\ 51.34 102.6\\ 51.51 102.6\\
}\Alt

\pgfplotstableread[row sep=\\]{t v\\
0.81 11\\ 36.16 11\\ 36.31 12\\ 37.64 12\\ 37.79 11\\ 38.28 11\\ 38.45 12\\ 51.6 12\\
}\Tmp

\pgfplotsset{
  pan/.style={scale only axis, height=135pt, anchor=south west,
    axis line style={draw=none}, major tick length=0pt, tick style={draw=none},
    ticklabel style={font=\fontsize{11.5}{13}\selectfont, inner sep=0pt},
    /pgf/number format/assume math mode=true, /pgf/number format/fixed},
  hid/.style={xtick=\empty},
  lft/.style={yticklabel={\pgfmathprintnumber{\tick}-}, yticklabel style={anchor=east, xshift=#1}},
  rgt/.style={yticklabel pos=right, yticklabel={-\pgfmathprintnumber{\tick}}, yticklabel style={anchor=west, xshift=#1}},
}

\newcommand\Panel[5]{%
\begin{axis}[pan, at={(82pt,#1)}, width=#4, xmin=#2, xmax=#3, ymin=0, ymax=893,
  axis background/.style={fill=black},
  xtick={#5}, xticklabel={\pgfmathparse{int(round(\tick))}\pgfmathresult:00},
  xticklabel style={anchor=base, yshift=-13.5pt, text=txt},
  ytick={0,200,400,600,800}, lft=-50pt, yticklabel style={text=watl}]
\end{axis}
\begin{axis}[pan, hid, at={(82pt,#1)}, width=#4, xmin=#2, xmax=#3, ymin=0, ymax=12.06,
  ytick={0,3,6,9,12}, rgt=27pt, yticklabel style={text=tmpc}]
  \addplot[tmpc, line width=1.3pt] table[x=t,y=v]{\Tmp};
\end{axis}
\begin{axis}[pan, hid, at={(82pt,#1)}, width=#4, xmin=#2, xmax=#3, ymin=91.35, ymax=111.35,
  ytick={95,100,105,110}, rgt=2pt, yticklabel style={text=altc}]
  \addplot[altc, line width=1.2pt, line join=round, smooth, tension=0.35] table[x=t,y=v]{\Alt};
\end{axis}
\begin{axis}[pan, hid, at={(82pt,#1)}, width=#4, xmin=#2, xmax=#3, ymin=0, ymax=51,
  ytick={0,20,40}, lft=-1pt, yticklabel style={text=kphc}]
  \addplot[kphc, line width=1.2pt, line join=round, smooth, tension=0.35] table[x=t,y=v]{\Kph};
\end{axis}
\begin{axis}[pan, hid, at={(82pt,#1)}, width=#4, xmin=#2, xmax=#3, ymin=0, ymax=211,
  ytick={0,50,100,150,200}, lft=-25pt, yticklabel style={text=rpmc}]
  \addplot[rpmc, line width=1.2pt, line join=round] table[x=t,y=v]{\Rpm};
\end{axis}
\begin{axis}[pan, hid, at={(82pt,#1)}, width=#4, xmin=#2, xmax=#3, ymin=0, ymax=893, ytick=\empty]
  \addplot[watc, line width=1.2pt, line join=round] table[x=t,y=v]{\Wat};
  \addplot[dashc, line width=1.1pt, dash pattern=on 4pt off 3pt] coordinates {(#2,360) (#3,360)};
  \addplot[dashc, line width=1.1pt, dash pattern=on 4pt off 3pt] coordinates {(#2,300) (#3,300)};
\end{axis}
}

\newcommand\Hdr[2]{%
  \node[anchor=base west, inner sep=0pt, text=watl] at (3pt,#1) {watts};
  \node[anchor=base west, inner sep=0pt, text=rpmc] at (37pt,#1) {rpm};
  \node[anchor=base west, inner sep=0pt, text=kphc] at (63pt,#1) {kph};
  \node[anchor=base west, inner sep=0pt, text=altc] at (#2,#1) {m};
  \node[anchor=base west, inner sep=0pt, text=tmpc] at ({#2+25pt},#1) {Celsius};
}
\newcommand\Find[3]{\node[anchor=base, inner sep=0pt, text=txt] at (#1,#2) {#3};}

\begin{document}
\begin{tikzpicture}[font=\fontsize{11.5}{13}\selectfont]
\path[use as bounding box] (0,0) rectangle (1280pt,740pt);
\fill[bg] (0,0) rectangle (1280pt,740pt);
\fill[stripg] (0,737.5pt) rectangle (1280pt,740pt);
\fill[fill={rgb,255:red,176;green,200;blue,232}] (13pt,737.5pt) rectangle (61pt,740pt);
\fill[fill={rgb,255:red,240;green,216;blue,140}] (61pt,737.5pt) rectangle (110pt,740pt);
\fill[fill={rgb,255:red,192;green,216;blue,168}] (110pt,737.5pt) rectangle (211pt,740pt);
\fill[fill={rgb,255:red,240;green,168;blue,168}] (211pt,737.5pt) rectangle (288pt,740pt);

\Panel{579pt}{0}{13.42}{1131pt}{0,1,2,3,4,5,6,7,8,9,10,11,12,13}
\Panel{397.5pt}{13.38}{26.83}{1131pt}{14,15,16,17,18,19,20,21,22,23,24,25,26}
\Panel{216pt}{26.88}{40.27}{1131pt}{27,28,29,30,31,32,33,34,35,36,37,38,39,40}
\Panel{34pt}{40.27}{51.52}{953pt}{41,42,43,44,45,46,47,48,49,50,51}

\Hdr{719.3pt}{1215pt}
\Hdr{537.8pt}{1215pt}
\Hdr{356.3pt}{1215pt}
\Hdr{174.3pt}{1037pt}
\node[anchor=base west, inner sep=0pt, text=txt] at (83pt,719.3pt) {Lap 1};

\Find{746pt}{719.3pt}{Find \#1 (493w)}
\Find{868pt}{719.3pt}{Find \#2 (424w)}
\Find{1119pt}{719.3pt}{Find \#3 (322w)}
\Find{922pt}{537.8pt}{Find \#4 (387w)}
\Find{1097pt}{537.8pt}{Find \#5 (427w)}
\node[anchor=base west, inner sep=0pt, text=txt] at (1198pt,537.8pt) {Fir};
\node[anchor=base west, inner sep=0pt, text=txt] at (269pt,356.3pt) {Find \#7 (457w)};
\node[anchor=base west, inner sep=0pt, text=txt] at (337pt,356.3pt) {Find \#8 (339w)};
\Find{470pt}{356.3pt}{Find \#9 (322w)}
\Find{562pt}{356.3pt}{Find \#10 (400w)}
\Find{990pt}{356.3pt}{Find \#11 (454w)}
\Find{508pt}{174.3pt}{Find \#12 (484w)}
\Find{662pt}{174.3pt}{Find \#13 (349w)}
\Find{846pt}{174.3pt}{Find \#14 (353w)}
\node[anchor=base west, inner sep=0pt, text=txt] at (951pt,174.3pt) {Find \#15 (356w};
\end{tikzpicture}
\end{document}
